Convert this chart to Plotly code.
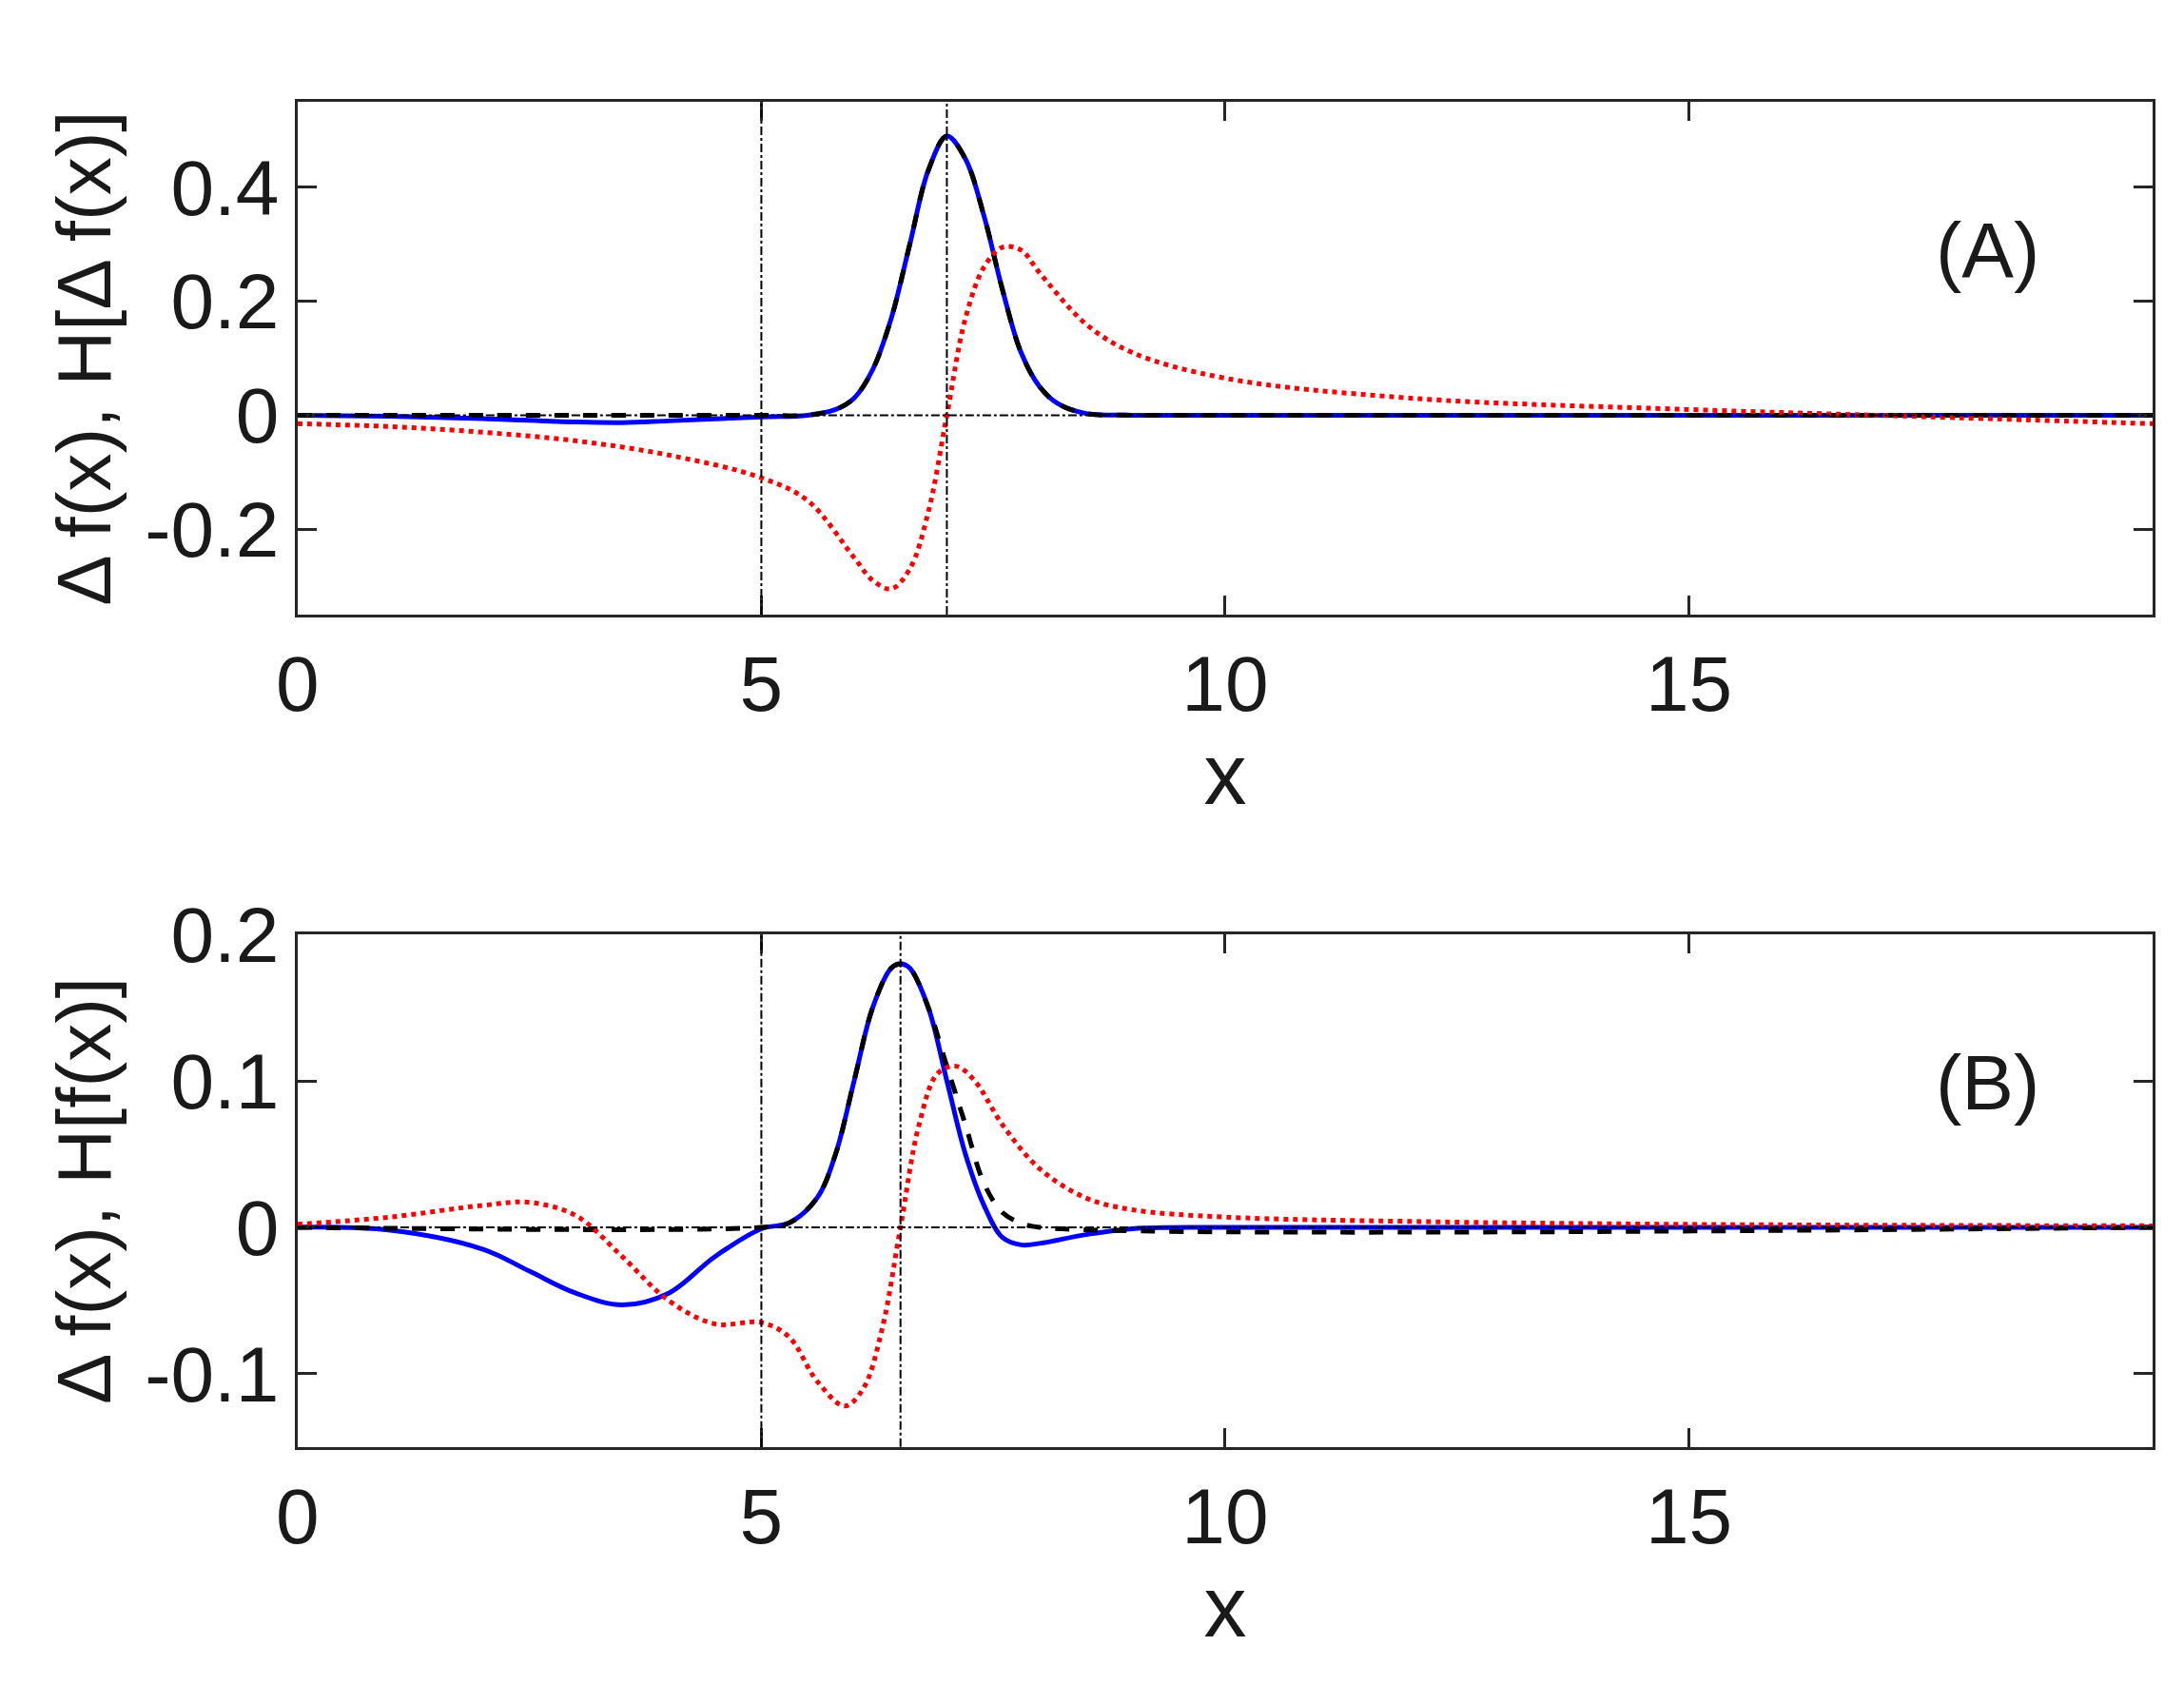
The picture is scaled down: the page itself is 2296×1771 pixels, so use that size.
import plotly.graph_objects as go
from plotly.subplots import make_subplots

# Panel A
xa_blue = [0,1,2,3,3.5,4,5,5.5,5.8,6,6.2,6.4,6.6,6.8,7,7.2,7.4,7.6,7.8,8,8.2,8.5,9,10,20]
ya_blue = [0,-0.002,-0.006,-0.012,-0.013,-0.01,-0.003,0.0,0.01,0.03,0.08,0.17,0.3,0.43,0.49,0.45,0.35,0.22,0.11,0.05,0.02,0.003,0,0,0]
ya_black = [0,0,0,0,0,0,0,0.0,0.01,0.03,0.08,0.17,0.3,0.43,0.49,0.45,0.35,0.22,0.11,0.05,0.02,0.003,0,0,0]
xa_red = [0,1,2,3,4,5,5.5,6,6.2,6.4,6.6,6.8,7,7.2,7.4,7.6,7.8,8,8.5,9,10,12,15,17,20]
ya_red = [-0.015,-0.02,-0.03,-0.045,-0.07,-0.11,-0.15,-0.25,-0.29,-0.305,-0.27,-0.17,0.0,0.17,0.26,0.295,0.29,0.25,0.16,0.11,0.065,0.03,0.01,0,-0.015]

# Panel B
xb_blue = [0,1,2,2.5,3,3.5,4,4.5,5,5.3,5.6,5.8,6,6.2,6.4,6.5,6.6,6.8,7,7.2,7.4,7.6,7.8,8,8.5,9,10,20]
yb_blue = [0,-0.002,-0.015,-0.03,-0.045,-0.053,-0.045,-0.02,-0.001,0.003,0.02,0.05,0.1,0.15,0.177,0.18,0.177,0.15,0.1,0.05,0.015,-0.007,-0.012,-0.011,-0.005,-0.001,0,0]
xb_black = [0,5,5.3,5.6,5.8,6,6.2,6.4,6.5,6.6,6.8,7,7.2,7.4,7.6,7.8,8,20]
yb_black = [0,0,0.003,0.02,0.05,0.1,0.15,0.177,0.18,0.177,0.15,0.11,0.07,0.03,0.01,0.003,0,0]
xb_red = [0,1,2,2.5,3,3.5,4,4.5,5,5.3,5.6,5.9,6.1,6.3,6.5,6.7,6.9,7.1,7.3,7.6,8,8.5,9,10,12,15,20]
yb_red = [0.002,0.007,0.015,0.017,0.008,-0.02,-0.05,-0.066,-0.065,-0.075,-0.105,-0.122,-0.11,-0.07,0.0,0.07,0.105,0.11,0.1,0.07,0.04,0.02,0.012,0.007,0.004,0.002,0.001]

vlines_a = [5, 7]
vlines_b = [5, 6.5]

fig = make_subplots(rows=2, cols=1)
def add(row, xs, ys, color, dash, width):
    fig.add_trace(go.Scatter(x=xs, y=ys, mode="lines", line=dict(color=color, dash=dash, width=width, shape="spline"), showlegend=False), row=row, col=1)

add(1, xa_blue, ya_blue, "blue", "solid", 5)
add(1, xa_blue, ya_black, "black", "dash", 5)
add(1, xa_red, ya_red, "red", "dot", 5)
add(2, xb_blue, yb_blue, "blue", "solid", 5)
add(2, xb_black, yb_black, "black", "dash", 5)
add(2, xb_red, yb_red, "red", "dot", 5)

dd = dict(color="black", width=2, dash="dashdot")
for xv in vlines_a:
    fig.add_shape(type="line", x0=xv, x1=xv, y0=0, y1=1, xref="x", yref="y domain", line=dd)
for xv in vlines_b:
    fig.add_shape(type="line", x0=xv, x1=xv, y0=0, y1=1, xref="x2", yref="y2 domain", line=dd)
fig.add_shape(type="line", x0=0, x1=1, y0=0, y1=0, xref="x domain", yref="y", line=dd)
fig.add_shape(type="line", x0=0, x1=1, y0=0, y1=0, xref="x2 domain", yref="y2", line=dd)

C = "#1a1a1a"
fam = "Liberation Sans, Arial"
font = dict(family=fam, size=82, color=C)
ax = dict(showgrid=False, zeroline=False, showline=True, linecolor="#262626", linewidth=3,
          mirror="ticks", ticks="inside", ticklen=20, tickwidth=3, tickcolor="#262626", tickfont=font)
fig.update_xaxes(**ax, range=[0, 20], tickvals=[0, 5, 10, 15, 20], title=dict(text="x", font=dict(family=fam, size=90, color=C), standoff=15))
fig.update_yaxes(**ax)
fig.update_yaxes(range=[-0.35, 0.55], tickvals=[-0.2, 0, 0.2, 0.4], ticktext=["-0.2", "0", "0.2", "0.4"], row=1, col=1,
                 title=dict(text="Δ f(x), H[Δ f(x)]", font=dict(family=fam, size=80, color=C), standoff=10))
fig.update_yaxes(range=[-0.15, 0.2], tickvals=[-0.1, 0, 0.1, 0.2], ticktext=["-0.1", "0", "0.1", "0.2"], row=2, col=1,
                 title=dict(text="Δ f(x), H[f(x)]", font=dict(family=fam, size=80, color=C), standoff=10))
fig.update_layout(
    width=2296, height=1771, paper_bgcolor="white", plot_bgcolor="white",
    margin=dict(l=0, r=0, t=0, b=0),
    xaxis=dict(domain=[0.124, 0.982]), xaxis2=dict(domain=[0.124, 0.982]),
    yaxis=dict(domain=[0.6565, 0.9686]), yaxis2=dict(domain=[0.1496, 0.4617]),
    annotations=[
        dict(text="(A)", x=0.94, y=0.80, xref="x domain", yref="y domain", showarrow=False, font=font),
        dict(text="(B)", x=0.94, y=0.80, xref="x2 domain", yref="y2 domain", showarrow=False, font=font),
    ],
)
fig.write_html("out.html")
